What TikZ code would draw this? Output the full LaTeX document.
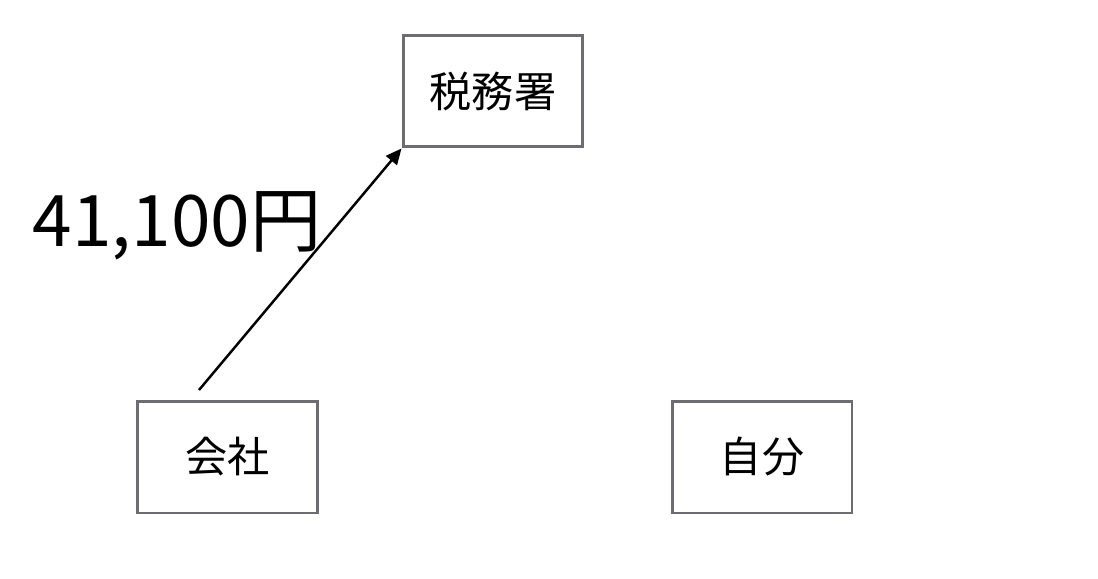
\documentclass[tikz,border=0pt]{standalone}
\usepackage{fontspec}
\setmainfont{Noto Sans CJK JP}
\usepackage{xcolor}
\usetikzlibrary{arrows.meta,positioning}
\definecolor{boxgray}{HTML}{6C6C72}

\begin{document}
\begin{tikzpicture}[x=0.02cm,y=-0.02cm,
        place/.style={draw=boxgray,line width=1.7pt,fill=white,
              minimum width=3.6cm,minimum height=2.24cm,font=\fontsize{24}{28}\selectfont}]
        \useasboundingbox (0,0) rectangle (1098,578);
        \node[place] (tax) at (493,91) {税務署};
        \node[place] (firm) at (227.5,457) {会社};
        \node[place] (self) at (762,457) {自分};
        \coordinate (src) at (199,390);
        \draw[-{Triangle[length=9pt,width=8pt]},line width=1.4pt] (src) -- (tax.south west);
        \node[font=\fontsize{40.5}{44}\selectfont] (amount) at (177,226) {41,100円};
      \end{tikzpicture}
\end{document}
